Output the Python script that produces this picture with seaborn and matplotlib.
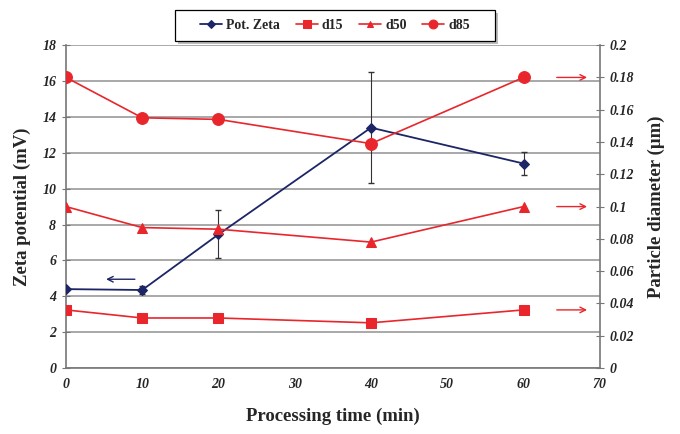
import numpy as np
import pandas as pd
import matplotlib
matplotlib.use("Agg")
import matplotlib.pyplot as plt
from matplotlib.patches import Rectangle
import seaborn as sns

# Data
time_min = [0, 10, 20, 40, 60]
zeta_mv = [4.4, 4.35, 7.45, 13.4, 11.4]
zeta_err_low = [0.0, 0.2, 1.3, 3.1, 0.65]
zeta_err_high = [0.0, 0.2, 1.35, 3.1, 0.65]
d15_um = [0.036, 0.031, 0.031, 0.028, 0.036]
d50_um = [0.100, 0.087, 0.086, 0.078, 0.100]
d85_um = [0.180, 0.155, 0.154, 0.139, 0.180]

navy = "#1c2566"
red = "#e8262c"

sns.set_style("white")
plt.rcParams["font.family"] = ["Liberation Serif", "DejaVu Serif"]

df = pd.DataFrame({"time": time_min, "zeta": zeta_mv, "d15": d15_um,
                   "d50": d50_um, "d85": d85_um})

fig = plt.figure(figsize=(6.8, 4.34), dpi=100)
ax = fig.add_axes([0.097, 0.152, 0.785, 0.744])
ax2 = ax.twinx()

# horizontal grid on the left axis
ax.set_ylim(0, 18)
ax.set_yticks(np.arange(0, 19, 2))
ax.yaxis.grid(True, color="#9a9a9a", linewidth=1.2)
ax.set_axisbelow(True)

ax.errorbar(df["time"], df["zeta"], yerr=[zeta_err_low, zeta_err_high],
            fmt="none", ecolor="#333333", elinewidth=0.8, capsize=2, zorder=3)
sns.lineplot(data=df, x="time", y="zeta", ax=ax, color=navy, marker="D",
             markersize=5.5, markeredgecolor=navy, linewidth=1.3,
             label="Pot. Zeta", legend=False, zorder=4)

sns.lineplot(data=df, x="time", y="d15", ax=ax2, color=red, marker="s",
             markersize=7, markeredgecolor=red, linewidth=1.2,
             label="d15", legend=False)
sns.lineplot(data=df, x="time", y="d50", ax=ax2, color=red, marker="^",
             markersize=6.5, markeredgecolor=red, linewidth=1.2,
             label="d50", legend=False)
sns.lineplot(data=df, x="time", y="d85", ax=ax2, color=red, marker="o",
             markersize=8.5, markeredgecolor=red, linewidth=1.2,
             label="d85", legend=False)

ax.set_xlim(0, 70)
ax.set_xticks(np.arange(0, 71, 10))
ax2.set_ylim(0, 0.2)
yt2 = np.round(np.arange(0, 0.201, 0.02), 2)
ax2.set_yticks(yt2)
ax2.set_yticklabels([("%g" % v) for v in yt2])

for a in (ax, ax2):
    for lab in a.get_xticklabels() + a.get_yticklabels():
        lab.set_fontsize(10)
        lab.set_fontweight("bold")
        lab.set_fontstyle("italic")
    for s in a.spines.values():
        s.set_visible(False)
ax.spines["left"].set_visible(True)
ax.spines["bottom"].set_visible(True)
ax2.spines["right"].set_visible(True)
for s in (ax.spines["left"], ax.spines["bottom"], ax2.spines["right"]):
    s.set_color("#777777")
    s.set_linewidth(1.2)

ax.tick_params(axis="both", direction="inout", length=6, color="#777777", pad=4)
ax2.tick_params(axis="y", direction="inout", length=6, color="#777777", pad=4)

ax.set_xlabel("Processing time (min)", fontsize=13.5, fontweight="bold", labelpad=12)
ax.set_ylabel("Zeta potential (mV)", fontsize=13.5, fontweight="bold", labelpad=8)
ax2.set_ylabel("Particle diameter (\u00b5m)", fontsize=13.5, fontweight="bold", labelpad=10)

# axis indicator arrows
ax.annotate("", xy=(4.9, zeta_mv[0] + 0.55), xytext=(9.4, zeta_mv[0] + 0.55),
            arrowprops=dict(arrowstyle="->", color=navy, lw=1.0))
for series in (d15_um, d50_um, d85_um):
    ax2.annotate("", xy=(68.7, series[-1]), xytext=(64.0, series[-1]),
                 arrowprops=dict(arrowstyle="->", color=red, lw=1.0))

# legend box with a drop shadow, entries drawn inside without frame
W, H = 680.0, 434.0
bx0, bx1, by0, by1 = 175, 495, 10, 41
fig.patches.append(Rectangle(((bx0 + 3) / W, 1 - (by1 + 3) / H), (bx1 - bx0) / W,
                             (by1 - by0) / H, transform=fig.transFigure,
                             facecolor="#bdbdbd", edgecolor="none", zorder=1))
fig.patches.append(Rectangle((bx0 / W, 1 - by1 / H), (bx1 - bx0) / W,
                             (by1 - by0) / H, transform=fig.transFigure,
                             facecolor="white", edgecolor="black",
                             linewidth=0.9, zorder=2))

h1, l1 = ax.get_legend_handles_labels()
h2, l2 = ax2.get_legend_handles_labels()
leg = fig.legend(h1 + h2, l1 + l2, loc="center",
                 bbox_to_anchor=((bx0 + bx1) / 2 / W, 1 - (by0 + by1) / 2 / H),
                 ncol=4, frameon=False, handlelength=1.6, handletextpad=0.3,
                 columnspacing=1.1, markerscale=0.75,
                 prop=dict(size=10, weight="bold"), borderpad=0.3,
                 borderaxespad=0)

fig.savefig("out.png", dpi=100)
